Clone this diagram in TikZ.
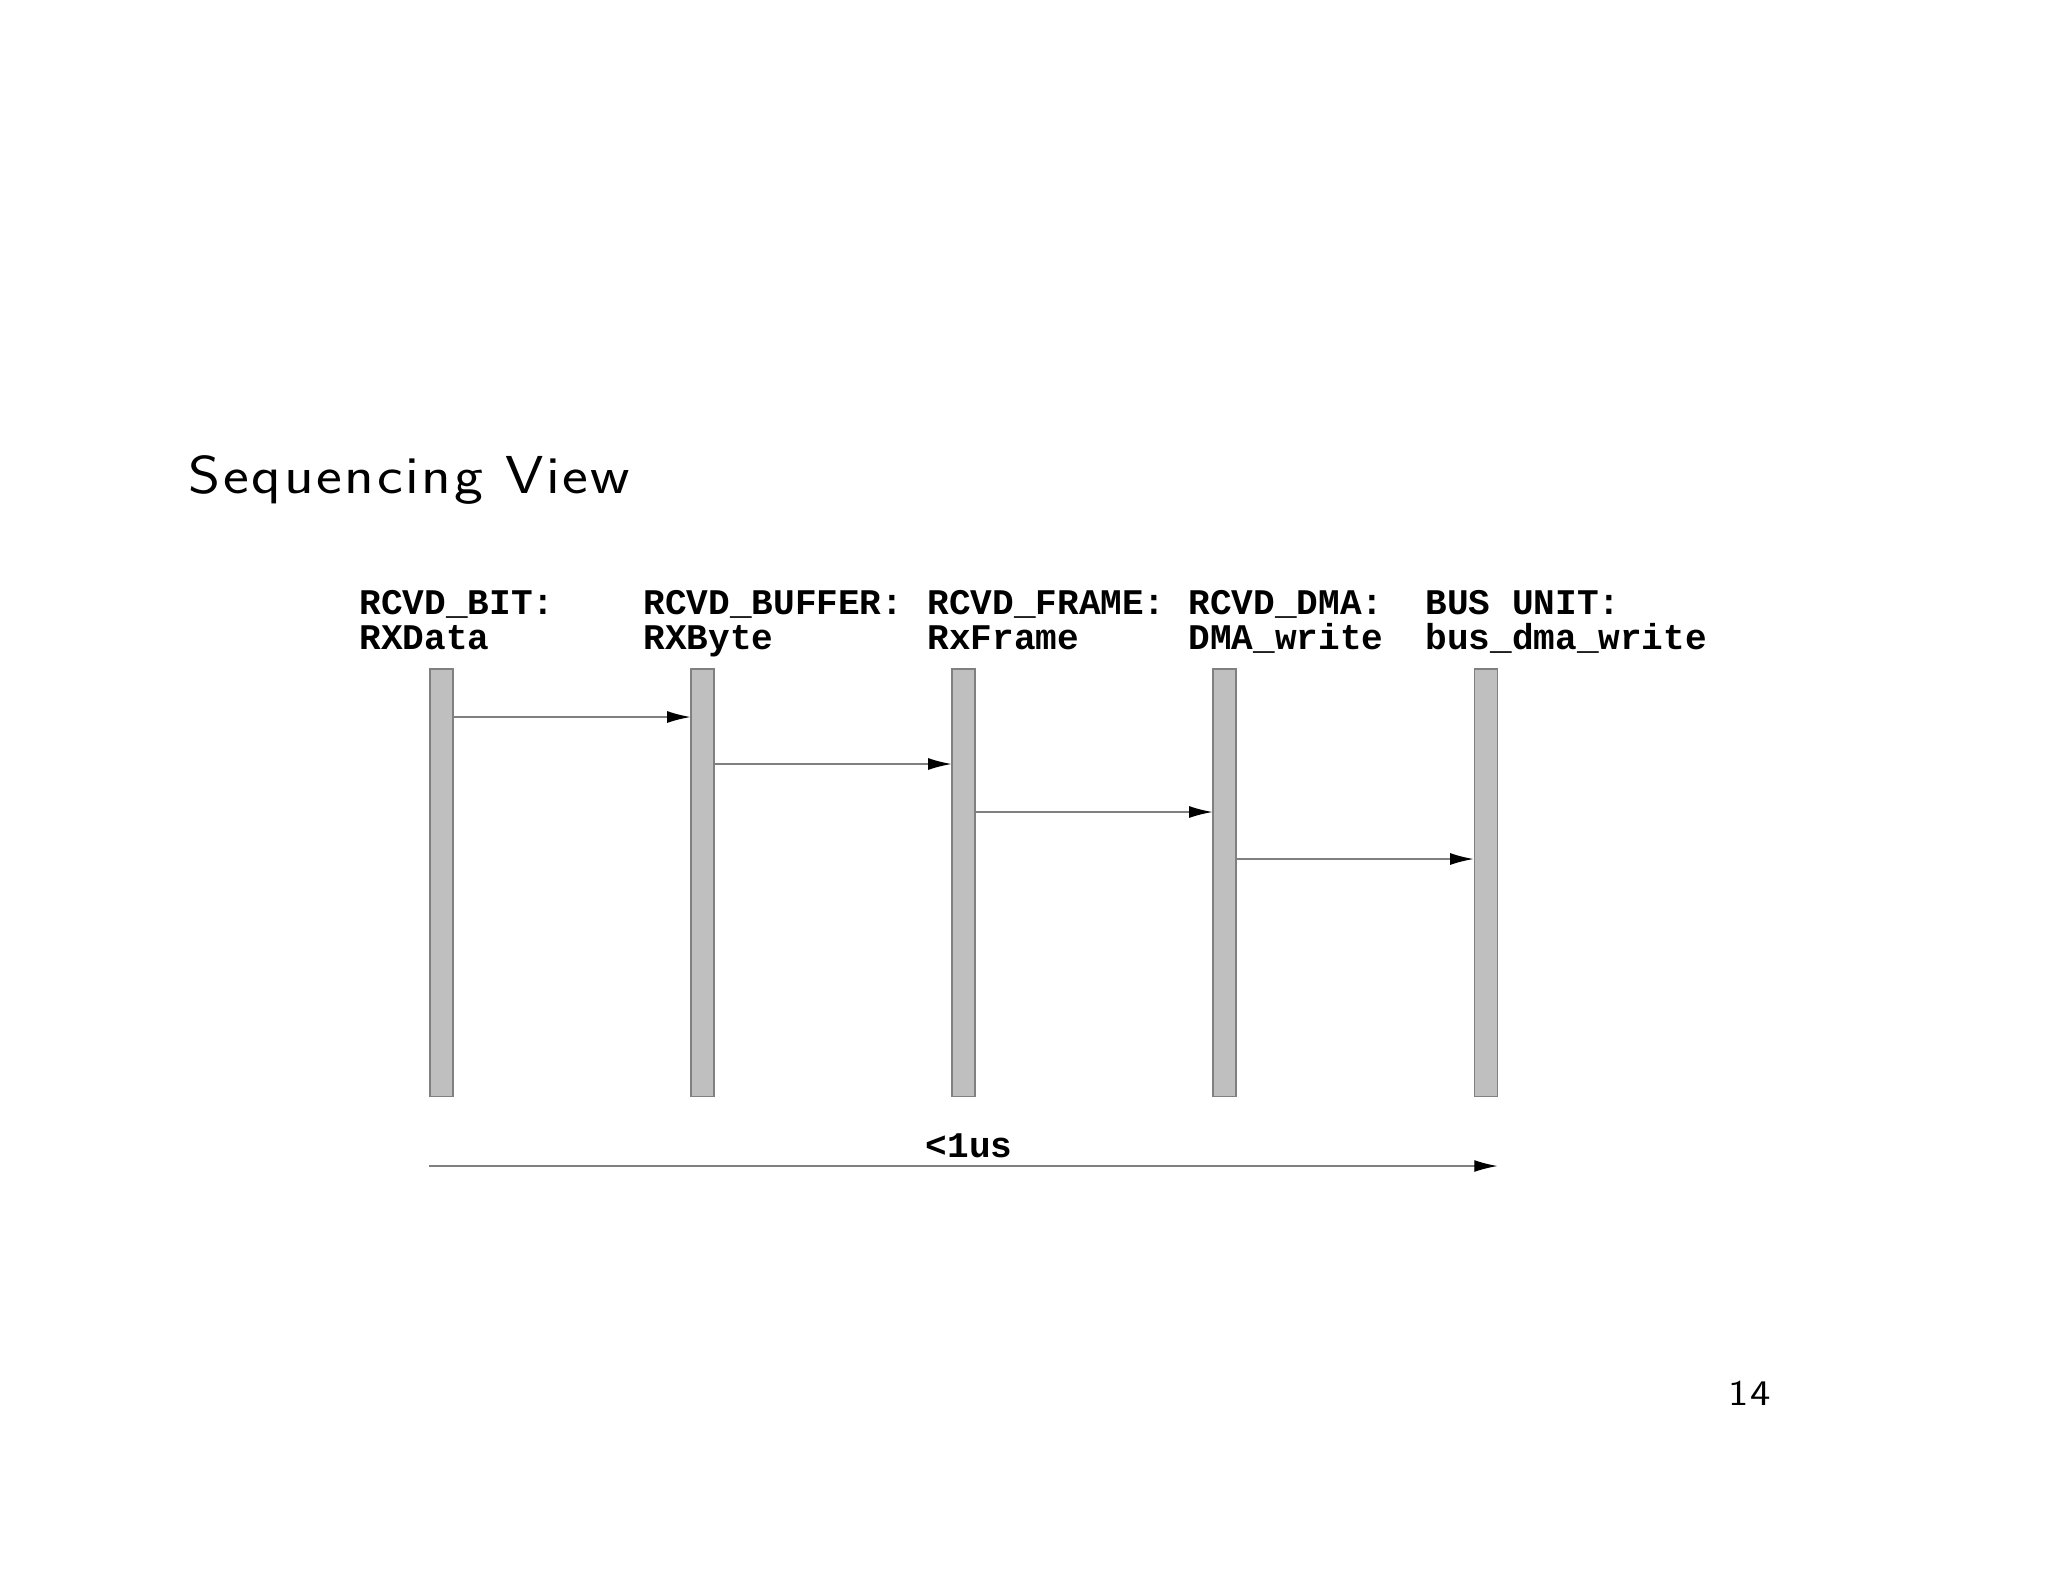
\documentclass[tikz,border=0pt]{standalone}
\usepackage{fontspec}
\newfontfamily\slidefont[FakeStretch=1.15,LetterSpace=5]{Latin Modern Sans}
\newfontfamily\courfont{Liberation Mono}
\usetikzlibrary{arrows.meta}

\begin{document}
\begin{tikzpicture}[x=0.13643mm,y=-0.13643mm,
	lifeline/.style={draw=black!50,fill=black!25,line width=0.4pt,
		minimum width=23*0.13643mm,minimum height=427*0.13643mm,inner sep=0pt},
	msg/.style={draw=black!50,line width=0.5pt,-{Latex[length=9bp,width=4.6bp,black]}},
	objlabel/.style={anchor=base west,align=left,inner sep=0pt,
		font=\fontsize{14}{13.5}\selectfont\courfont\bfseries}]
	\useasboundingbox (0,0) rectangle (2048,1582);

	% title and page number
	\node[anchor=base west,inner sep=0pt,font=\fontsize{20.74}{24}\selectfont\slidefont]
		(title) at (188,493) {Sequencing View};
	\node[anchor=base east,inner sep=0pt,font=\fontsize{14}{17}\selectfont\slidefont]
		(pagenum) at (1771,1405) {14};

	% object names (anchored on the second line)
	\node[objlabel] (bitlbl) at (359,649) {RCVD\_BIT:\\RXData};
	\node[objlabel] (buflbl) at (643,649) {RCVD\_BUFFER:\\RXByte};
	\node[objlabel] (frmlbl) at (927,649) {RCVD\_FRAME:\\RxFrame};
	\node[objlabel] (dmalbl) at (1188,649) {RCVD\_DMA:\\DMA\_write};
	\node[objlabel] (buslbl) at (1425,649) {BUS UNIT:\\bus\_dma\_write};

	% life lines
	\node[lifeline] (bit) at (441.5,882.5) {};
	\node[lifeline] (buf) at (702.5,882.5) {};
	\node[lifeline] (frm) at (963.5,882.5) {};
	\node[lifeline] (dma) at (1224.5,882.5) {};
	\node[lifeline] (bus) at (1485.5,882.5) {};

	% messages
	\draw[msg] (bit.east |- 0,717) -- (buf.west |- 0,717);
	\draw[msg] (buf.east |- 0,764) -- (frm.west |- 0,764);
	\draw[msg] (frm.east |- 0,812) -- (dma.west |- 0,812);
	\draw[msg] (dma.east |- 0,859) -- (bus.west |- 0,859);

	% overall time
	\draw[msg] (bit.west |- 0,1166) -- (bus.east |- 0,1166);
	\node[anchor=base,inner sep=0pt,font=\fontsize{14}{17}\selectfont\courfont\bfseries]
		(dur) at (969,1157) {<1us};
\end{tikzpicture}
\end{document}
